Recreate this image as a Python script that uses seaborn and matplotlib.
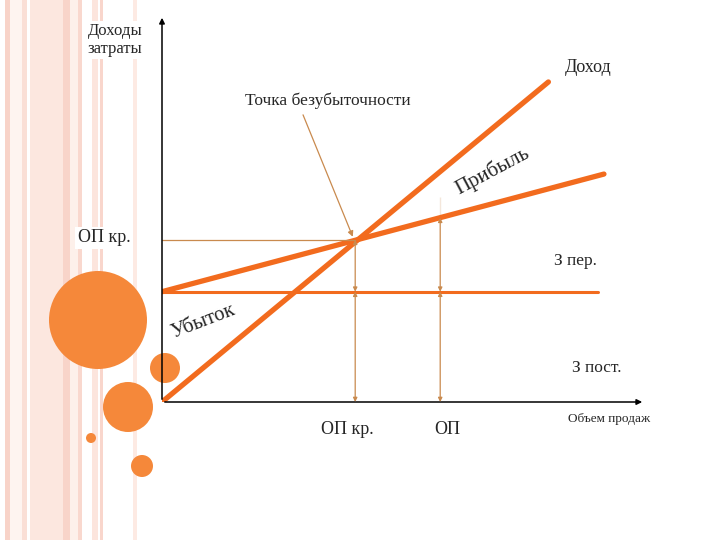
import numpy as np
import pandas as pd
import matplotlib.pyplot as plt
import seaborn as sns
from matplotlib.patches import Circle, Rectangle

sns.set_style("white")
plt.rcParams['font.family'] = ['Liberation Serif', 'DejaVu Serif']

# data (units of the chart: x = sales volume, y = money)
revenue_x = [0.0, 8.0]
revenue_y = [0.0, 8.27]
cost_x = [0.0, 9.15]
cost_y = [2.85, 5.89]
fixed_x = [0.0, 9.03]
fixed_y = [2.85, 2.85]
be_x, be_y = 4.0, 4.19        # точка безубыточности
op_x, op_top = 5.76, 5.3      # фактический объем продаж
op_cost = 4.76

thick = '#F26B1E'
thin = '#C98A4E'

fig = plt.figure(figsize=(7.2, 5.4), dpi=100)

# background slide decoration
bg = fig.add_axes([0, 0, 1, 1])
bg.set_xlim(0, 720)
bg.set_ylim(540, 0)
bg.axis('off')
stripes = [(5, 5, '#F8D3C8'), (10, 12, '#FEF4F0'), (22, 5, '#FADFD6'),
           (30, 33, '#FCE7DF'), (63, 7, '#F8D4C9'), (70, 8, '#FDF0EA'),
           (78, 4, '#F9D8CE'), (92, 6, '#FCE5DD'), (100, 3, '#F9D6CC'),
           (133, 4, '#FDEAE3')]
for x0, w, c in stripes:
    bg.add_patch(Rectangle((x0, 0), w, 540, color=c, lw=0))
circles = [(98, 320, 49), (128, 407, 25), (165, 368, 15), (91, 438, 5), (142, 466, 11)]
for cx, cy, r in circles:
    bg.add_patch(Circle((cx, cy), r, color='#F5883A', lw=0))

# main chart
ax = fig.add_axes([162 / 720, 138 / 540, 483 / 720, 387 / 540])
ax.set_xlim(0, 10)
ax.set_ylim(0, 10)
ax.axis('off')
ax.patch.set_alpha(0)

# axes with arrows
ax.annotate('', xy=(10, 0), xytext=(0, 0),
            arrowprops=dict(arrowstyle='-|>', color='black', lw=1.1, mutation_scale=8))
ax.annotate('', xy=(0, 10), xytext=(0, 0),
            arrowprops=dict(arrowstyle='-|>', color='black', lw=1.1, mutation_scale=8))

sns.lineplot(x=fixed_x, y=fixed_y, ax=ax, color=thick, linewidth=2.2)
sns.lineplot(x=cost_x, y=cost_y, ax=ax, color=thick, linewidth=3.8)
sns.lineplot(x=revenue_x, y=revenue_y, ax=ax, color=thick, linewidth=3.8)

# thin guide lines
sns.lineplot(x=[0, be_x], y=[be_y, be_y], ax=ax, color=thin, linewidth=0.9)
sns.lineplot(x=[op_x, op_x], y=[op_cost, op_top], ax=ax, color=thin, linewidth=0.9)
arr = dict(arrowstyle='<|-|>', color=thin, lw=0.9, mutation_scale=6, shrinkA=0, shrinkB=0)
for vx, vy in [(be_x, be_y), (op_x, op_cost)]:
    ax.annotate('', xy=(vx, 0), xytext=(vx, fixed_y[0]), arrowprops=arr)
    ax.annotate('', xy=(vx, fixed_y[0]), xytext=(vx, vy), arrowprops=arr)
ax.annotate('', xy=(be_x - 0.05, be_y + 0.08), xytext=(2.92, 7.42),
            arrowprops=dict(arrowstyle='-|>', color=thin, lw=0.9, mutation_scale=8,
                            shrinkA=0, shrinkB=0))

# labels
bg.text(115, 40, 'Доходы\nзатраты', ha='center', va='center', fontsize=12,
        linespacing=1.1, bbox=dict(facecolor='white', edgecolor='none', pad=2))
bg.text(588, 68, 'Доход', ha='center', va='center', fontsize=13)
bg.text(328, 101, 'Точка безубыточности', ha='center', va='center', fontsize=12.5)
bg.text(492, 171, 'Прибыль', ha='center', va='center', fontsize=15, rotation=28)
bg.text(104, 238, 'ОП кр.', ha='center', va='center', fontsize=13,
        bbox=dict(facecolor='white', edgecolor='none', pad=2))
bg.text(575, 261, 'З пер.', ha='center', va='center', fontsize=12.5)
bg.text(203, 322, 'Убыток', ha='center', va='center', fontsize=15, rotation=21)
bg.text(597, 368, 'З пост.', ha='center', va='center', fontsize=12.5)
bg.text(347, 430, 'ОП кр.', ha='center', va='center', fontsize=13)
bg.text(447, 430, 'ОП', ha='center', va='center', fontsize=13)
bg.text(609, 419, 'Объем продаж', ha='center', va='center', fontsize=9.5)

fig.savefig('out.png', dpi=100)
